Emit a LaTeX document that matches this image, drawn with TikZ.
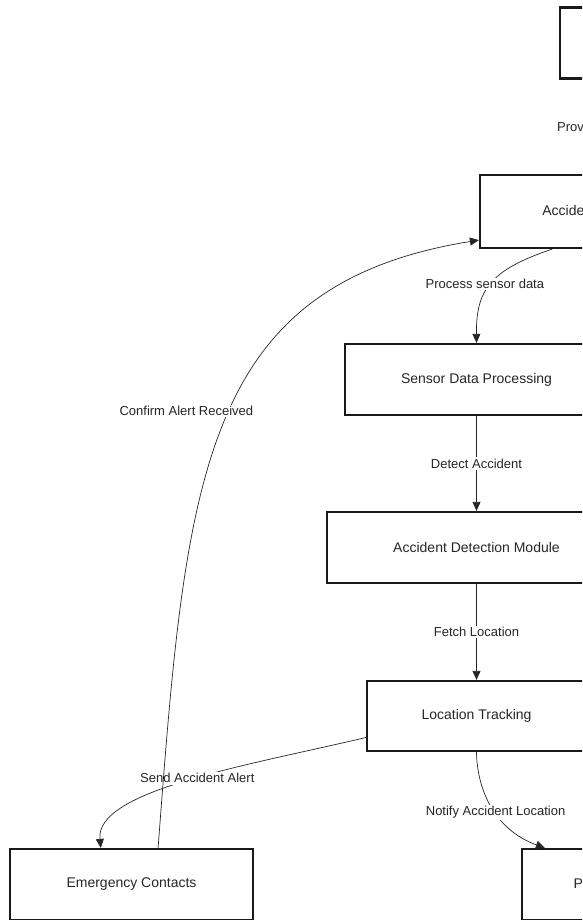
\documentclass[tikz,border=0pt]{standalone}
\usepackage{fontspec}
\setmainfont{Liberation Sans}
\usepackage{tikz}
\usetikzlibrary{arrows.meta, positioning}
\tikzset{
  block/.style={draw=black!90, line width=2.2pt, fill=white, minimum height=71pt, inner sep=0pt, font=\fontsize{14}{17}\selectfont, text=black!85},
  edgelabel/.style={fill=white, inner sep=1.5pt, font=\fontsize{13}{15}\selectfont, text=black!85},
  flowline/.style={draw=black!85, line width=0.7pt, -{Triangle[length=9pt,width=8pt]}},
}

\begin{document}
\begin{tikzpicture}[x=1pt, y=-1pt]
    \useasboundingbox (0,0) rectangle (582,920);
    \clip (0,0) rectangle (582,920);

    % ==== Boxes ====
    \node[block, minimum width=200pt] (sensors) at (660,43) {Vehicle Sensors};
    \node[block, minimum width=292pt, minimum height=73pt] (accsys) at (626,211.5) {Accident Detection System};
    \node[block, minimum width=263pt] (sdp) at (476.5,379.5) {Sensor Data Processing};
    \node[block, minimum width=299pt] (adm) at (476.5,547.5) {Accident Detection Module};
    \node[block, minimum width=219pt, minimum height=70pt] (loctrack) at (476.5,716) {Location Tracking};
    \node[block, minimum width=243pt] (contacts) at (131.5,884.5) {Emergency Contacts};
    \node[block, minimum width=301pt] (services) at (672.5,884.5) {Police and Emergency Services};

    % ==== Main flow ====
    \draw[flowline] (sensors.south) -- node[edgelabel, xshift=-28pt] {Provide sensor data} (accsys.north);
    \draw[flowline] (accsys.207) .. controls (490,270) and (476,290) .. node[edgelabel, pos=0.5, xshift=-6pt] {Process sensor data} (sdp.north);
    \draw[flowline] (sdp) -- node[edgelabel] {Detect Accident} (adm);
    \draw[flowline] (adm) -- node[edgelabel] {Fetch Location} (loctrack);

    % ==== Alerts ====
    \draw[flowline] (loctrack.191) .. controls (250,765) and (95,790) .. node[edgelabel, pos=0.47] {Send Accident Alert} (contacts.130);
    \draw[flowline] (loctrack.south) .. controls (477,790) and (495,830) .. node[edgelabel, pos=0.55] {Notify Accident Location} (services.164);

    % feedback to the top
    \draw[flowline] (contacts.54) .. controls (186,480) and (200,285) .. node[edgelabel, pos=0.5, xshift=-38pt, yshift=12pt] {Confirm Alert Received} (accsys.191);
\end{tikzpicture}
\end{document}
